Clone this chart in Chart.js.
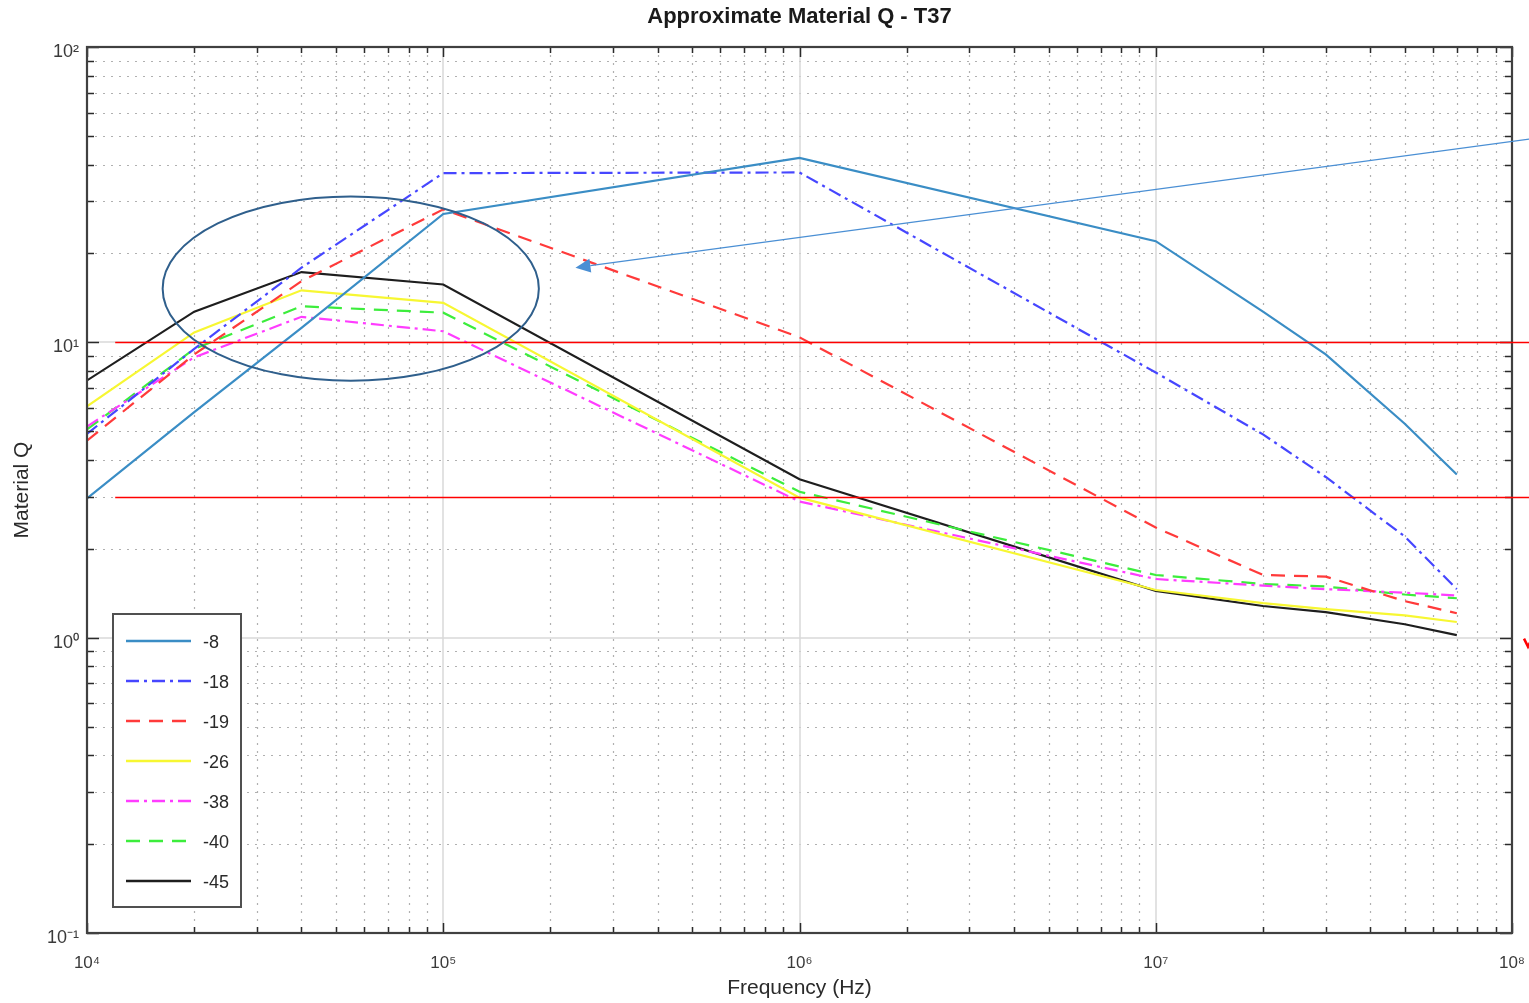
<!DOCTYPE html>
<html>
<head>
<meta charset="utf-8">
<title>Approximate Material Q - T37</title>
<script src="https://cdn.jsdelivr.net/npm/chart.js@4.4.1/dist/chart.umd.min.js"></script>
<style>
  html, body { margin: 0; padding: 0; background: #fff; }
</style>
</head>
<body>
<canvas id="qChart" width="1529" height="1003"></canvas>
<script>
// frequency points (Hz) shared by all curves
const freqs = [1e4, 2e4, 4e4, 1e5, 1e6, 1e7, 2e7, 3e7, 5e7, 7e7];
// material Q, one array per curve
const q8  = [2.96, 5.8, 11.2, 27.2, 42.1, 22.0, 12.7, 9.1, 5.3, 3.57];
const q18 = [4.9, 9.5, 17.9, 37.4, 37.6, 7.9, 4.88, 3.5, 2.2, 1.46];
const q19 = [4.65, 9.1, 16.1, 28.2, 10.4, 2.36, 1.63, 1.61, 1.33, 1.21];
const q26 = [6.07, 10.8, 15.0, 13.6, 2.98, 1.45, 1.31, 1.25, 1.19, 1.13];
const q38 = [5.19, 8.9, 12.2, 10.9, 2.89, 1.58, 1.50, 1.46, 1.42, 1.39];
const q40 = [5.07, 9.5, 13.25, 12.6, 3.12, 1.63, 1.52, 1.49, 1.40, 1.36];
const q45 = [7.43, 12.7, 17.3, 15.7, 3.44, 1.44, 1.28, 1.22, 1.11, 1.02];
const seriesNames = ['-8', '-18', '-19', '-26', '-38', '-40', '-45'];

// decade tick labels
const xTickValues = [1e4, 1e5, 1e6, 1e7, 1e8];
const xTickLabels = ['10\u2074', '10\u2075', '10\u2076', '10\u2077', '10\u2078'];
const yTickValues = [0.1, 1, 10, 100];
const yTickLabels = ['10\u207B\u00B9', '10\u2070', '10\u00B9', '10\u00B2'];

// limit lines drawn across the plot
const limitLines = [10, 3];

const FONT = "'Liberation Sans', Arial, Helvetica, sans-serif";

const styles = [
  { color: '#3a8dc5', dash: [] },
  { color: '#4646ff', dash: [13, 5, 3, 5] },
  { color: '#ff3a3a', dash: [14, 9] },
  { color: '#f7f732', dash: [] },
  { color: '#ff3cff', dash: [13, 5, 3, 5] },
  { color: '#3ced3c', dash: [14, 9] },
  { color: '#1e1e1e', dash: [] }
];

const allSeries = [q8, q18, q19, q26, q38, q40, q45];

const datasets = allSeries.map((vals, i) => ({
  label: seriesNames[i],
  data: freqs.map((f, j) => ({ x: f, y: vals[j] })),
  borderColor: styles[i].color,
  backgroundColor: styles[i].color,
  borderDash: styles[i].dash,
  borderWidth: 2.2,
  pointRadius: 0,
  tension: 0,
  fill: false
}));

// 1..9 x 10^n ticks for a log axis
function logTicks(lo, hi) {
  const out = [];
  const e0 = Math.round(Math.log10(lo)), e1 = Math.round(Math.log10(hi));
  for (let e = e0; e < e1; e++) {
    for (let m = 1; m < 10; m++) out.push({ value: m * Math.pow(10, e) });
  }
  out.push({ value: hi });
  return out;
}

function isDecade(v) {
  const l = Math.log10(v);
  return Math.abs(l - Math.round(l)) < 1e-9;
}

function decadeLabel(v, values, labels) {
  const i = values.findIndex(t => Math.abs(v / t - 1) < 1e-6);
  return i >= 0 ? labels[i] : '';
}

// grid: dotted minor lines, solid light major lines
const gridPlugin = {
  id: 'octaveGrid',
  beforeDatasetsDraw(chart) {
    const { ctx, chartArea: a, scales: { x, y } } = chart;
    ctx.save();
    ctx.lineWidth = 1.2;
    ctx.strokeStyle = '#b0b0b0';
    ctx.setLineDash([2, 6]);
    x.ticks.forEach(t => {
      if (isDecade(t.value)) return;
      const px = Math.round(x.getPixelForValue(t.value)) + 0.5;
      ctx.beginPath(); ctx.moveTo(px, a.top); ctx.lineTo(px, a.bottom); ctx.stroke();
    });
    y.ticks.forEach(t => {
      if (isDecade(t.value)) return;
      const py = Math.round(y.getPixelForValue(t.value)) + 0.5;
      ctx.beginPath(); ctx.moveTo(a.left, py); ctx.lineTo(a.right, py); ctx.stroke();
    });
    ctx.setLineDash([]);
    ctx.strokeStyle = '#d8d8d8';
    ctx.lineWidth = 1.5;
    x.ticks.forEach(t => {
      if (!isDecade(t.value)) return;
      const px = Math.round(x.getPixelForValue(t.value));
      ctx.beginPath(); ctx.moveTo(px, a.top); ctx.lineTo(px, a.bottom); ctx.stroke();
    });
    y.ticks.forEach(t => {
      if (!isDecade(t.value)) return;
      const py = Math.round(y.getPixelForValue(t.value));
      ctx.beginPath(); ctx.moveTo(a.left, py); ctx.lineTo(a.right, py); ctx.stroke();
    });
    ctx.restore();
  },
  afterDatasetsDraw(chart) {
    const { ctx, chartArea: a, scales: { x, y } } = chart;
    ctx.save();
    // inward tick marks on all four sides
    ctx.strokeStyle = '#2a2a2a';
    ctx.lineWidth = 1.5;
    x.ticks.forEach(t => {
      const px = Math.round(x.getPixelForValue(t.value)) + 0.5;
      const len = isDecade(t.value) ? 10 : 6;
      ctx.beginPath();
      ctx.moveTo(px, a.bottom); ctx.lineTo(px, a.bottom - len);
      ctx.moveTo(px, a.top); ctx.lineTo(px, a.top + len);
      ctx.stroke();
    });
    y.ticks.forEach(t => {
      const py = Math.round(y.getPixelForValue(t.value)) + 0.5;
      const len = isDecade(t.value) ? 12 : 7;
      ctx.beginPath();
      ctx.moveTo(a.left, py); ctx.lineTo(a.left + len, py);
      ctx.moveTo(a.right, py); ctx.lineTo(a.right - len, py);
      ctx.stroke();
    });
    // box
    ctx.strokeStyle = '#404040';
    ctx.lineWidth = 2.2;
    ctx.strokeRect(a.left, a.top, a.right - a.left, a.bottom - a.top);
    ctx.restore();
  }
};

// hand-drawn markup on top of the figure: limit lines, ellipse, arrow
const markupPlugin = {
  id: 'markup',
  afterDraw(chart) {
    const { ctx, scales: { x, y }, width } = chart;
    ctx.save();
    // red limit lines
    ctx.strokeStyle = '#ff0000';
    ctx.lineWidth = 1.3;
    const x0 = x.getPixelForValue(1.2e4);
    limitLines.forEach(v => {
      const py = Math.round(y.getPixelForValue(v)) + 0.5;
      ctx.beginPath(); ctx.moveTo(x0, py); ctx.lineTo(width, py); ctx.stroke();
    });
    // red mark cut off at the right edge
    const vy = y.getPixelForValue(1);
    ctx.lineWidth = 2.5;
    ctx.beginPath();
    ctx.moveTo(width - 5, vy + 1); ctx.lineTo(width - 1, vy + 9); ctx.lineTo(width + 3, vy + 1);
    ctx.stroke();

    // ellipse round the low-frequency peaks
    const cx = x.getPixelForValue(5.5e4), cy = y.getPixelForValue(15.2);
    const rx = x.getPixelForValue(5.5e4 * Math.pow(10, 0.528)) - cx;
    const ry = cy - y.getPixelForValue(15.2 * Math.pow(10, 0.312));
    ctx.strokeStyle = '#2f5f8c';
    ctx.lineWidth = 2;
    ctx.beginPath();
    ctx.ellipse(cx, cy, rx, ry, 0, 0, Math.PI * 2);
    ctx.stroke();

    // arrow from off the right edge pointing into the plot
    const ax0 = x.getPixelForValue(1.124e8), ay0 = y.getPixelForValue(48.8);
    const ax1 = x.getPixelForValue(2.35e5), ay1 = y.getPixelForValue(17.9);
    const ang = Math.atan2(ay1 - ay0, ax1 - ax0);
    const head = 15, half = 7;
    const bx = ax1 - head * Math.cos(ang), by = ay1 - head * Math.sin(ang);
    ctx.strokeStyle = '#4a8fd4';
    ctx.fillStyle = '#4a8fd4';
    ctx.lineWidth = 1.2;
    ctx.beginPath(); ctx.moveTo(ax0, ay0); ctx.lineTo(bx, by); ctx.stroke();
    ctx.beginPath();
    ctx.moveTo(ax1, ay1);
    ctx.lineTo(bx + half * Math.sin(ang), by - half * Math.cos(ang));
    ctx.lineTo(bx - half * Math.sin(ang), by + half * Math.cos(ang));
    ctx.closePath();
    ctx.fill();

    // title centred over the plot area
    const a = chart.chartArea;
    ctx.fillStyle = '#1a1a1a';
    ctx.font = 'bold 22px ' + FONT;
    ctx.textAlign = 'center';
    ctx.textBaseline = 'middle';
    ctx.fillText('Approximate Material Q - T37', (a.left + a.right) / 2, 17);
    ctx.restore();
  }
};

// boxed legend in the lower-left corner of the plot
const boxLegendPlugin = {
  id: 'boxLegend',
  afterDraw(chart) {
    const { ctx, chartArea: a } = chart;
    const sets = chart.data.datasets;
    const bx = a.left + 26, bw = 128, rowH = 40;
    const bh = sets.length * rowH + 13;
    const by = a.bottom - 26 - bh;
    ctx.save();
    ctx.fillStyle = '#ffffff';
    ctx.fillRect(bx, by, bw, bh);
    ctx.strokeStyle = '#505050';
    ctx.lineWidth = 2;
    ctx.strokeRect(bx, by, bw, bh);
    ctx.font = '18px ' + FONT;
    ctx.textBaseline = 'middle';
    ctx.textAlign = 'left';
    sets.forEach((ds, i) => {
      const ry = by + 27 + i * rowH;
      ctx.strokeStyle = ds.borderColor;
      ctx.lineWidth = 2.5;
      ctx.setLineDash(ds.borderDash || []);
      ctx.beginPath(); ctx.moveTo(bx + 13, ry); ctx.lineTo(bx + 78, ry); ctx.stroke();
      ctx.setLineDash([]);
      ctx.fillStyle = '#2a2a2a';
      ctx.fillText(ds.label, bx + 90, ry + 2);
    });
    ctx.restore();
  }
};

new Chart(document.getElementById('qChart'), {
  type: 'line',
  data: { datasets },
  options: {
    responsive: false,
    animation: false,
    devicePixelRatio: 1,
    layout: { padding: { top: 47, right: 17, bottom: 0, left: 0 } },
    plugins: {
      legend: { display: false },
      title: { display: false },
      tooltip: { enabled: false }
    },
    scales: {
      x: {
        type: 'logarithmic',
        position: 'bottom',
        min: 1e4,
        max: 1e8,
        grid: { display: false, drawTicks: false },
        border: { display: false },
        afterBuildTicks: s => { s.ticks = logTicks(1e4, 1e8); },
        afterFit: s => { s.height = 70; s.paddingLeft = 0; s.paddingRight = 0; },
        ticks: {
          autoSkip: false,
          maxRotation: 0,
          padding: 20,
          color: '#3a3a3a',
          font: { family: FONT, size: 17 },
          callback: v => decadeLabel(v, xTickValues, xTickLabels)
        },
        title: {
          display: true,
          text: 'Frequency (Hz)',
          color: '#2a2a2a',
          font: { family: FONT, size: 21 },
          padding: { top: 0, bottom: 2 }
        }
      },
      y: {
        type: 'logarithmic',
        position: 'left',
        min: 0.1,
        max: 100,
        grid: { display: false, drawTicks: false },
        border: { display: false },
        afterBuildTicks: s => { s.ticks = logTicks(0.1, 100); },
        afterFit: s => { s.width = 87; s.paddingTop = 0; s.paddingBottom = 0; },
        ticks: {
          autoSkip: false,
          padding: 8,
          labelOffset: 5,
          color: '#3a3a3a',
          font: { family: FONT, size: 18 },
          callback: v => decadeLabel(v, yTickValues, yTickLabels)
        },
        title: {
          display: true,
          text: 'Material Q',
          color: '#2a2a2a',
          font: { family: FONT, size: 21 },
          padding: { top: 10, bottom: 0 }
        }
      }
    }
  },
  plugins: [gridPlugin, markupPlugin, boxLegendPlugin]
});
</script>
</body>
</html>
